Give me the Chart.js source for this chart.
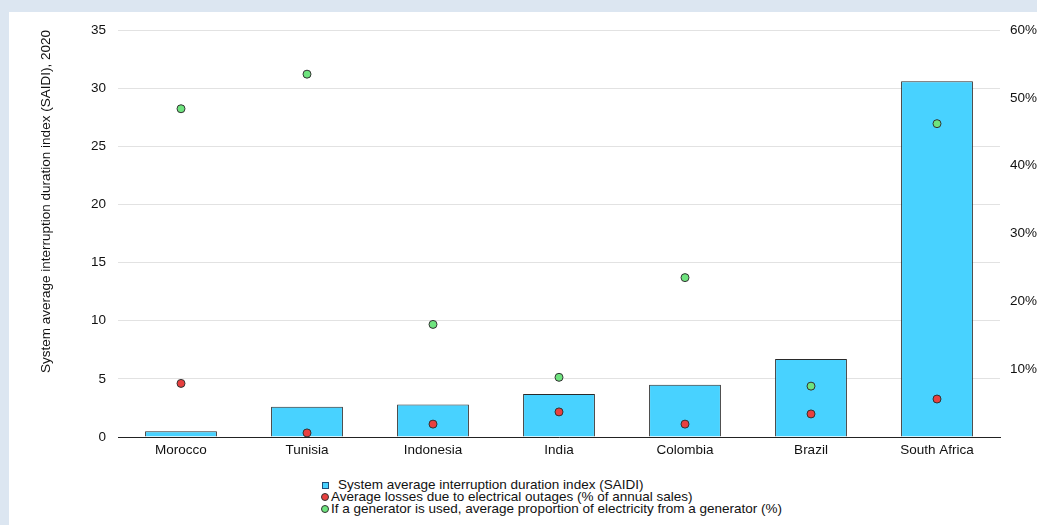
<!DOCTYPE html>
<html>
<head>
<meta charset="utf-8">
<script src="https://cdn.jsdelivr.net/npm/chart.js@4/dist/chart.umd.min.js"></script>
<style>
  html, body { margin: 0; padding: 0; overflow: hidden; background: #dce6f1; }
  body { width: 1037px; height: 525px; position: relative; font-family: "Liberation Sans", Arial, sans-serif; }
  #panel { position: absolute; left: 9px; top: 12px; width: 1040px; height: 513px; background: #fff; overflow: hidden; }
  #wrap { position: absolute; left: 0; top: 0; width: 1040px; height: 455px; }
  #legend { position: absolute; left: 312px; top: 467px; font-size: 13.5px; line-height: 12px; color: #111; }
  #legend div { display: flex; align-items: center; white-space: nowrap; height: 12px; }
  #legend .sq { width: 5px; height: 5px; border: 1px solid #1f4e79; margin: 0 9px 0 1px; }
  #legend .dot { width: 6px; height: 6px; border: 1px solid #333; border-radius: 50%; margin-right: 2px; }
</style>
</head>
<body>
<div id="panel">
  <div id="wrap"><canvas id="chart"></canvas></div>
  <div id="legend"></div>
</div>
<script>
const countries = ['Morocco', 'Tunisia', 'Indonesia', 'India', 'Colombia', 'Brazil', 'South Africa'];
const saidi = [0.5, 2.6, 2.8, 3.7, 4.5, 6.7, 30.6];
const lossesPct = [7.9, 0.6, 1.9, 3.7, 1.9, 3.4, 5.6];
const generatorPct = [48.4, 53.5, 16.6, 8.8, 23.5, 7.5, 46.2];

const leftTicks = [0, 5, 10, 15, 20, 25, 30, 35];
const rightTicks = [0, 10, 20, 30, 40, 50, 60];

const labelSaidi = 'System average interruption duration index (SAIDI)';
const labelLosses = 'Average losses due to electrical outages (% of annual sales)';
const labelGen = 'If a generator is used, average proportion of electricity from a generator (%)';
const axisTitle = 'System average interruption duration index (SAIDI), 2020';

Chart.defaults.font.family = '"Liberation Sans", Arial, sans-serif';
Chart.defaults.font.size = 13.5;
Chart.defaults.color = '#111';

const chart = new Chart(document.getElementById('chart'), {
    type: 'bar',
    data: {
        labels: countries,
        datasets: [
            { type: 'line', label: labelGen, data: generatorPct, yAxisID: 'y2', showLine: false,
              pointRadius: 4, pointBorderWidth: 1, pointBackgroundColor: '#6ee47e', pointBorderColor: '#333', order: 1 },
            { type: 'line', label: labelLosses, data: lossesPct, yAxisID: 'y2', showLine: false,
              pointRadius: 4, pointBorderWidth: 1, pointBackgroundColor: '#e8403f', pointBorderColor: '#333', order: 1 },
            { label: labelSaidi, data: saidi, yAxisID: 'y', backgroundColor: '#48d2ff', borderColor: '#2a2a2a',
              borderWidth: 1, barPercentage: 0.57, categoryPercentage: 1, order: 2 }
        ]
    },
    options: {
        responsive: true,
        maintainAspectRatio: false,
        animation: false,
        layout: { padding: { top: 18, bottom: 0 } },
        plugins: { legend: { display: false }, tooltip: { enabled: false } },
        scales: {
            x: {
                grid: { display: false, drawTicks: false },
                border: { color: '#222', width: 1 },
                ticks: { padding: 5 },
                afterFit: s => { s.height = 30; }
            },
            y: {
                position: 'left',
                min: 0, max: 35,
                afterBuildTicks: s => { s.ticks = leftTicks.map(v => ({ value: v })); },
                grid: { color: '#e2e2e2', drawTicks: false },
                border: { display: false },
                ticks: { padding: 12, font: { lineHeight: 0.9 } },
                title: { display: true, text: axisTitle, align: 'end', padding: { top: 29, bottom: 0 } },
                afterFit: s => { s.width = 109; }
            },
            y2: {
                position: 'right',
                min: 0, max: 60,
                afterBuildTicks: s => { s.ticks = rightTicks.map(v => ({ value: v })); },
                grid: { display: false, drawTicks: false },
                border: { display: false },
                ticks: { padding: 10, font: { lineHeight: 0.9 }, callback: v => v === 0 ? '' : v + '%' },
                afterFit: s => { s.width = 49; }
            }
        }
    }
});

// legend, built from the datasets
const legend = document.getElementById('legend');
[2, 1, 0].forEach(i => {
    const ds = chart.data.datasets[i];
    const row = document.createElement('div');
    const mark = document.createElement('span');
    if (ds.type === 'line') {
        mark.className = 'dot';
        mark.style.background = ds.pointBackgroundColor;
    } else {
        mark.className = 'sq';
        mark.style.background = ds.backgroundColor;
    }
    row.appendChild(mark);
    row.appendChild(document.createTextNode(ds.label));
    legend.appendChild(row);
});
</script>
</body>
</html>
